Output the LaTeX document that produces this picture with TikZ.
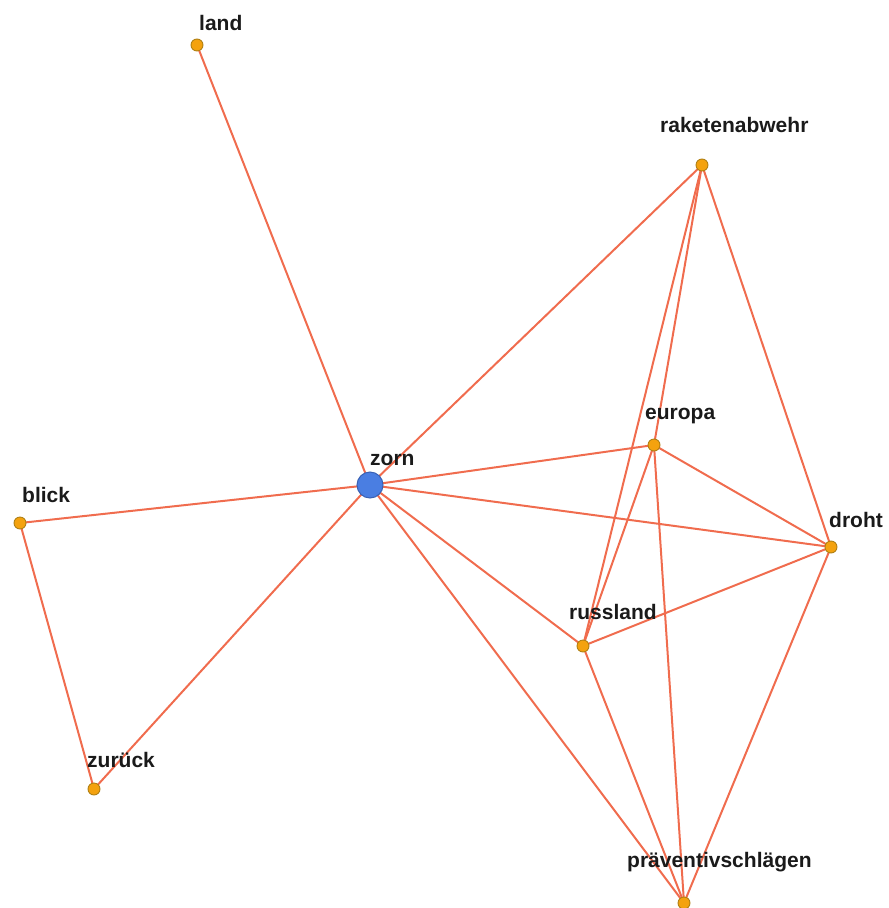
\documentclass[tikz,border=0pt]{standalone}
\usepackage{fontspec}
\setmainfont{Liberation Sans}
\usetikzlibrary{backgrounds}
\definecolor{edgecol}{RGB}{240,108,78}
\definecolor{termfill}{RGB}{244,162,14}
\definecolor{termdraw}{RGB}{176,128,20}
\definecolor{hubfill}{RGB}{74,126,226}
\definecolor{hubdraw}{RGB}{58,98,180}
\definecolor{labcol}{RGB}{26,26,26}
\tikzset{
  term/.style={circle, fill=termfill, draw=termdraw, line width=0.9pt, minimum size=12pt, inner sep=0pt},
  hub/.style={circle, fill=hubfill, draw=hubdraw, line width=1pt, minimum size=26pt, inner sep=0pt},
  lab/.style={anchor=base west, inner sep=0pt, text=labcol, font=\fontsize{21}{25}\selectfont\bfseries},
  link/.style={draw=edgecol, line width=2pt}
}
\begin{document}
\begin{tikzpicture}[x=1pt, y=-1pt]
\useasboundingbox (0,0) rectangle (889,908);
% word nodes
\node[hub]  (zorn)  at (370,485) {};
\node[term] (land)  at (197,45)  {};
\node[term] (rak)   at (702,165) {};
\node[term] (eur)   at (654,445) {};
\node[term] (blick) at (20,523)  {};
\node[term] (droht) at (831,547) {};
\node[term] (russ)  at (583,646) {};
\node[term] (zur)   at (94,789)  {};
\node[term] (prav)  at (684,903) {};
% links, kept behind the dots
\begin{scope}[on background layer]
\foreach \a/\b in {zorn/land, zorn/rak, zorn/eur, zorn/droht, zorn/russ, zorn/prav,
                   zorn/blick, zorn/zur, blick/zur,
                   rak/eur, rak/russ, rak/droht,
                   eur/droht, eur/russ, eur/prav,
                   russ/droht, russ/prav, droht/prav}
  \draw[link] (\a.center) -- (\b.center);
\end{scope}
% labels
\node[lab] (lland)  at (199,30)  {land};
\node[lab] (lrak)   at (660,132) {raketenabwehr};
\node[lab] (lzorn)  at (370,465) {zorn};
\node[lab] (leur)   at (645,419) {europa};
\node[lab] (lblick) at (22,502)  {blick};
\node[lab] (ldroht) at (829,527) {droht};
\node[lab] (lruss)  at (569,619) {russland};
\node[lab] (lzur)   at (87,767)  {zurück};
\node[lab] (lprav)  at (627,867) {präventivschlägen};
\end{tikzpicture}
\end{document}
